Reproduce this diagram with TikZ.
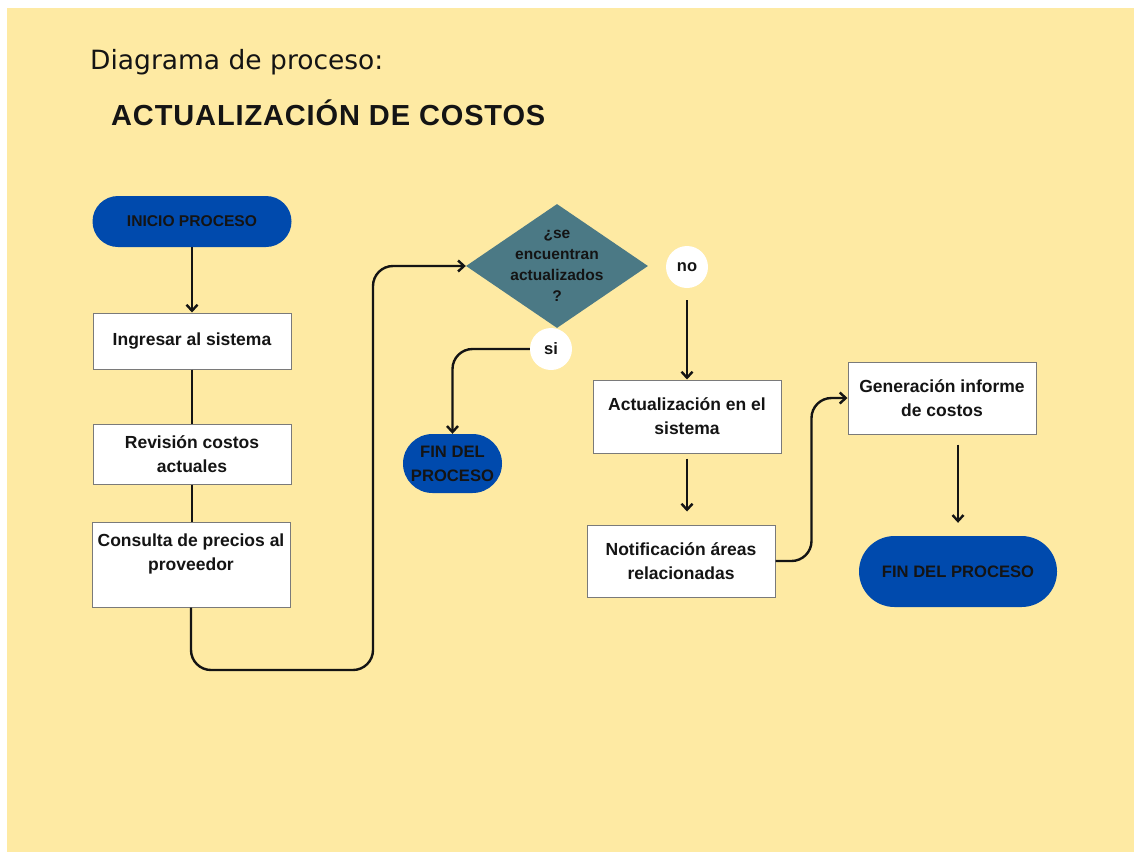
\documentclass[tikz,border=0pt]{standalone}
\usepackage{fontspec}
\setmainfont{Liberation Sans}
\newfontfamily\subtitlefont{DejaVu Sans}
\newfontfamily\titlefont[LetterSpace=3]{Liberation Sans}
\usepackage{tikz}
\usetikzlibrary{shapes.geometric,shapes.misc,arrows.meta,calc}
\definecolor{ac01}{HTML}{FEEAA3}
\definecolor{ac02}{HTML}{004AAD}
\definecolor{ac03}{HTML}{4B7985}
\definecolor{ac04}{HTML}{141414}
\definecolor{ac05}{HTML}{7A7A7A}
\tikzset{
  paso/.style = {rectangle, draw=ac05, line width=1pt, fill=white, text=ac04, align=center,
    inner sep=0pt, font=\bfseries\fontsize{17.5}{24}\selectfont},
  terminal/.style = {rounded rectangle, fill=ac02, text=ac04, align=center, inner sep=0pt,
    font=\bfseries\fontsize{16.6}{24}\selectfont},
  decision/.style = {diamond, fill=ac03, minimum width=182pt, minimum height=124pt, inner sep=0pt},
  answer/.style = {circle, fill=white, text=ac04, minimum size=42pt, inner sep=0pt,
    font=\bfseries\fontsize{16.5}{18}\selectfont},
  link/.style = {draw=ac04, line width=2.4pt},
  flow/.style = {link, -{Straight Barb[length=6pt, width=11pt]}},
}

\begin{document}
\begin{tikzpicture}[x=1pt, y=-1pt]
            \useasboundingbox (0,0) rectangle (1134,852);
            \fill[white] (0,0) rectangle (1134,852);
            \fill[ac01] (7,8) rectangle (1134,852);
            % titulo
            \node[anchor=base west, inner sep=0pt, text=ac04, font=\subtitlefont\fontsize{26.5}{30}\selectfont] (sub) at (90,69) {Diagrama de proceso:};
            \node[anchor=base west, inner sep=0pt, text=ac04, font=\titlefont\bfseries\fontsize{29}{30}\selectfont] (title) at (111,125) {ACTUALIZACIÓN DE COSTOS};
            % columna izquierda
            \node[terminal, minimum width=199pt, minimum height=51pt, font=\bfseries\fontsize{15.6}{18}\selectfont] (inicio) at (192,221.5) {INICIO PROCESO};
            \node[paso, minimum width=198pt, minimum height=56pt] (ingresar) at (192,341) {Ingresar al sistema};
            \node[paso, minimum width=198pt, minimum height=60pt] (revision) at (192,454) {Revisión costos\\actuales};
            \node[paso, minimum width=198pt, minimum height=85pt] (consulta) at (191,564.5) {Consulta de precios al\\proveedor\\~};
            % decision
            \node[decision, label={[text=ac04, align=center, font=\bfseries\fontsize{15.5}{21}\selectfont]center:{¿se\\encuentran\\actualizados\\?}}] (decision) at (557,266) {};
            \node[answer] (no) at (687,267) {no};
            \node[answer] (si) at (551,349) {si};
            \node[terminal, minimum width=99pt, minimum height=59pt] (fin1) at (452.5,463.5) {FIN DEL\\PROCESO};
            % columna derecha
            \node[paso, minimum width=188pt, minimum height=73pt] (act) at (687,416.5) {Actualización en el\\sistema};
            \node[paso, minimum width=188pt, minimum height=72pt] (notif) at (681,561) {Notificación áreas\\relacionadas};
            \node[paso, minimum width=188pt, minimum height=72pt] (gen) at (942,398) {Generación informe\\de costos};
            \node[terminal, minimum width=198pt, minimum height=71pt] (fin2) at (958,571.5) {FIN DEL PROCESO};
            \coordinate (c1) at (373,670);
            \draw[flow] (inicio.south) -- (ingresar.north);
            \draw[link] (ingresar.south) -- (ingresar.south |- revision.north);
            \draw[link] (revision.south) -- (revision.south |- consulta.north);
            \draw[flow] (consulta.south) [rounded corners=20pt] |- (c1) |- (decision.west) [sharp corners];
            \draw[flow] (si.west) [rounded corners=20pt] -| (fin1.north) [sharp corners];
            \draw[flow, shorten <=12pt] (no.south) -- (act.north);
            \draw[flow, shorten <=5pt, shorten >=13pt] (act.south) -- (act.south |- notif.north);
            \draw[flow] (notif.east) [rounded corners=20pt] -| ($(notif.east)!0.5!(gen.west)$) |- (gen.west) [sharp corners];
            \draw[flow, shorten <=10pt, shorten >=13pt] (fin2.north |- gen.south) -- (fin2.north);
        \end{tikzpicture}
\end{document}
